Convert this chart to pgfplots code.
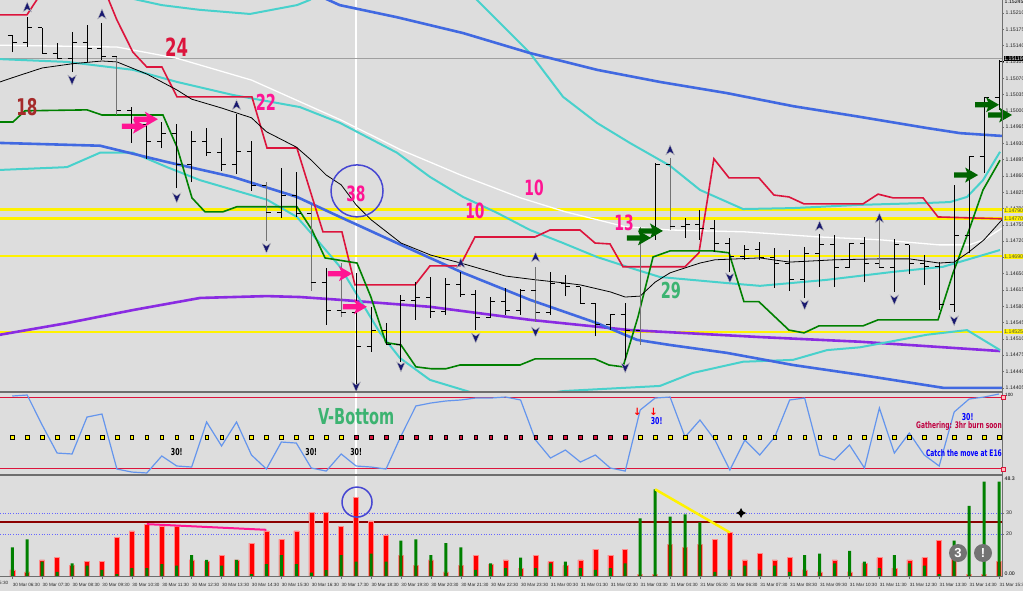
\documentclass[border=0pt]{standalone}
\usepackage{pgfplots}
\pgfplotsset{compat=1.18}
\usepackage{pgfplotstable}
\usepackage{fontspec}
\setmainfont{Liberation Sans}
\newfontfamily\impact{DejaVu Sans}[FakeStretch=0.66]
\newfontfamily\dejavu{DejaVu Sans}
\definecolor{bgc}{RGB}{221,221,221}
\definecolor{crim}{RGB}{220,20,60}
\definecolor{dgreen}{RGB}{0,128,0}
\definecolor{rblue}{RGB}{65,105,225}
\definecolor{turq}{RGB}{72,209,204}
\definecolor{bviolet}{RGB}{138,43,226}
\definecolor{cflower}{RGB}{100,149,237}
\definecolor{dpink}{RGB}{255,20,147}
\definecolor{brownc}{RGB}{165,42,42}
\definecolor{msgreen}{RGB}{60,179,113}
\definecolor{navyc}{RGB}{25,25,112}
\definecolor{circc}{RGB}{70,70,210}
\definecolor{arrgreen}{RGB}{0,100,0}
\definecolor{maroonc}{RGB}{139,0,0}
\definecolor{framec}{RGB}{110,110,110}

\pgfdeclareplotmark{otick}{\pgfpathmoveto{\pgfpoint{-4.5pt}{0pt}}\pgfpathlineto{\pgfpoint{0pt}{0pt}}\pgfusepathqstroke}
\pgfdeclareplotmark{ctick}{\pgfpathmoveto{\pgfpoint{0pt}{0pt}}\pgfpathlineto{\pgfpoint{4.5pt}{0pt}}\pgfusepathqstroke}
\pgfdeclareplotmark{fup}{\pgfpathmoveto{\pgfpoint{0pt}{5pt}}\pgfpathlineto{\pgfpoint{4.3pt}{-5pt}}\pgfpathlineto{\pgfpoint{0pt}{-2pt}}\pgfpathlineto{\pgfpoint{-4.3pt}{-5pt}}\pgfpathclose\pgfusepathqfillstroke}
\pgfdeclareplotmark{fdown}{\pgfpathmoveto{\pgfpoint{0pt}{-5pt}}\pgfpathlineto{\pgfpoint{4.3pt}{5pt}}\pgfpathlineto{\pgfpoint{0pt}{2pt}}\pgfpathlineto{\pgfpoint{-4.3pt}{5pt}}\pgfpathclose\pgfusepathqfillstroke}
\newcommand\arrpath[2]{%
\pgfpathmoveto{\pgfpoint{#1-12pt}{#2+2.6pt}}%
\pgfpathlineto{\pgfpoint{#1+1pt}{#2+2.6pt}}%
\pgfpathlineto{\pgfpoint{#1-1pt}{#2+7.5pt}}%
\pgfpathlineto{\pgfpoint{#1+12pt}{#2}}%
\pgfpathlineto{\pgfpoint{#1-1pt}{#2-7.5pt}}%
\pgfpathlineto{\pgfpoint{#1+1pt}{#2-2.6pt}}%
\pgfpathlineto{\pgfpoint{#1-12pt}{#2-2.6pt}}%
\pgfpathclose}
\pgfdeclareplotmark{rarr}{\arrpath{0pt}{0pt}\pgfusepathqfill}
\pgfdeclareplotmark{drarr}{\arrpath{-12pt}{-7pt}\pgfusepathqfill\arrpath{0pt}{0pt}\pgfusepathqfill}

\pgfplotstableread{
i O H L C g
0 1.15161 1.15163 1.15126 1.15146 0
1 1.15146 1.15201 1.15137 1.15178 0
2 1.15178 1.15178 1.15124 1.15124 0
3 1.15124 1.15146 1.15111 1.15113 0
4 1.15113 1.15169 1.15083 1.15146 0
5 1.15146 1.15184 1.15105 1.15133 0
6 1.15133 1.15189 1.15109 1.15116 0
7 1.15116 1.15116 1.14991 1.15000 1
8 1.15000 1.15008 1.14931 1.14970 0
9 1.14970 1.14970 1.14897 1.14935 0
10 1.14935 1.14976 1.14920 1.14952 0
11 1.14952 1.14972 1.14834 1.14884 0
12 1.14884 1.14957 1.14847 1.14935 0
13 1.14935 1.14963 1.14903 1.14910 0
14 1.14910 1.14942 1.14871 1.14884 0
15 1.14884 1.14993 1.14864 1.14912 0
16 1.14912 1.14935 1.14828 1.14839 0
17 1.14839 1.14847 1.14720 1.14781 1
18 1.14781 1.14877 1.14770 1.14819 0
19 1.14819 1.14869 1.14772 1.14779 0
20 1.14779 1.14798 1.14613 1.14632 1
21 1.14632 1.14663 1.14540 1.14570 0
22 1.14570 1.14673 1.14557 1.14566 1
23 1.14566 1.14652 1.14405 1.14493 0
24 1.14493 1.14579 1.14482 1.14529 0
25 1.14529 1.14544 1.14497 1.14499 0
26 1.14499 1.14605 1.14461 1.14592 0
27 1.14592 1.14632 1.14551 1.14598 0
28 1.14598 1.14643 1.14555 1.14568 0
29 1.14568 1.14641 1.14562 1.14626 0
30 1.14626 1.14654 1.14600 1.14605 0
31 1.14605 1.14615 1.14529 1.14557 0
32 1.14557 1.14600 1.14555 1.14590 0
33 1.14590 1.14620 1.14562 1.14572 0
34 1.14572 1.14617 1.14562 1.14615 0
35 1.14615 1.14665 1.14547 1.14566 1
36 1.14566 1.14654 1.14562 1.14630 0
37 1.14630 1.14648 1.14602 1.14622 0
38 1.14622 1.14622 1.14587 1.14587 0
39 1.14587 1.14587 1.14516 1.14540 0
40 1.14540 1.14562 1.14529 1.14562 0
41 1.14562 1.14587 1.14465 1.14529 0
42 1.14529 1.14751 1.14497 1.14744 1
43 1.14744 1.14888 1.14723 1.14884 0
44 1.14884 1.14899 1.14744 1.14751 1
45 1.14751 1.14770 1.14727 1.14755 0
46 1.14755 1.14787 1.14723 1.14748 0
47 1.14748 1.14766 1.14697 1.14716 0
48 1.14716 1.14727 1.14654 1.14688 0
49 1.14688 1.14712 1.14680 1.14703 0
50 1.14703 1.14718 1.14680 1.14684 0
51 1.14684 1.14705 1.14620 1.14673 0
52 1.14673 1.14701 1.14613 1.14637 0
53 1.14637 1.14708 1.14598 1.14693 0
54 1.14693 1.14736 1.14622 1.14712 0
55 1.14712 1.14733 1.14622 1.14663 0
56 1.14663 1.14716 1.14663 1.14714 0
57 1.14714 1.14729 1.14632 1.14671 0
58 1.14671 1.14770 1.14663 1.14663 1
59 1.14663 1.14725 1.14611 1.14712 0
60 1.14712 1.14712 1.14650 1.14673 0
61 1.14673 1.14690 1.14626 1.14665 0
62 1.14665 1.14675 1.14572 1.14583 0
63 1.14583 1.14841 1.14568 1.14733 0
64 1.14733 1.14901 1.14695 1.14901 0
65 1.14901 1.15028 1.14867 1.15028 0
66 1.15028 1.15109 1.15002 1.15105 0
}\bars

\pgfplotstableread{
i p
-0.82 1.15062
0 1.15071
2 1.15092
4 1.15101
6 1.15107
7 1.15105
9 1.15079
11 1.15045
12 1.15025
14 1.15006
16 1.14985
17 1.14955
19 1.14922
20 1.14894
21 1.14862
22 1.14841
23 1.14798
24 1.14766
26 1.14716
28 1.14690
30 1.14673
33 1.14645
35 1.14637
37 1.14630
38 1.14626
40 1.14611
41 1.14600
42 1.14602
43 1.14632
44 1.14652
46 1.14673
47 1.14680
50 1.14684
52 1.14675
55 1.14680
58 1.14682
60 1.14682
62 1.14673
63 1.14675
64 1.14697
65 1.14723
66.2 1.14766
}\blackma

\pgfplotstableread{
i p
-0.82 1.15141
7 1.15137
11 1.15113
16 1.15066
22 1.14980
26 1.14916
30 1.14862
34 1.14813
37 1.14783
41 1.14751
44 1.14744
49 1.14740
54 1.14729
58 1.14723
62 1.14712
64 1.14712
65 1.14723
66.2 1.14748
}\whitema

\pgfplotstableread{
i p
20.4 1.15249
21.9 1.15227
25.73 1.15201
30.15 1.15167
34.63 1.15124
39.11 1.15088
43.32 1.15062
47.8 1.15038
52.22 1.15010
56.7 1.14987
61.18 1.14963
63.4 1.14952
66.2 1.14946
}\blueup

\pgfplotstableread{
i p
-0.82 1.14931
5.87 1.14925
10.35 1.14890
14.76 1.14858
19.04 1.14815
21.92 1.14772
25.73 1.14716
30.15 1.14652
34.63 1.14594
39.11 1.14544
41.79 1.14508
43.99 1.14497
47.8 1.14480
52.22 1.14454
56.7 1.14433
62.26 1.14405
66.2 1.14405
}\bluelow

\pgfplotstableread{
i p
7.87 1.15242
10.0 1.15227
12.5 1.15217
15.9 1.15208
19.04 1.15227
19.9 1.15238
20.6 1.15255
25 1.15324
30.6 1.15255
31.09 1.15238
34.63 1.15124
36.84 1.15030
39.11 1.14974
41.31 1.14931
43.99 1.14882
46.0 1.14830
48.88 1.14789
52.22 1.14791
56.7 1.14798
61.18 1.14802
62.73 1.14804
63.86 1.14815
64.93 1.14851
66.07 1.14912
}\cyana

\pgfplotstableread{
i p
-0.82 1.15111
3.66 1.15105
8.07 1.15088
11.02 1.15062
14.76 1.15034
19.24 1.15008
21.92 1.14974
25.73 1.14910
27.94 1.14858
30.15 1.14815
32.42 1.14781
34.63 1.14744
36.84 1.14716
39.11 1.14686
41.31 1.14663
43.32 1.14643
47.8 1.14630
50.01 1.14624
54.5 1.14637
58.91 1.14654
62.26 1.14665
63.86 1.14680
66.07 1.14701
}\cyanb

\pgfplotstableread{
i p
-0.82 1.14873
3.66 1.14879
5.87 1.14910
8.07 1.14910
10.35 1.14879
12.56 1.14851
17.04 1.14809
19.04 1.14772
20.38 1.14723
21.92 1.14665
23.26 1.14594
24.6 1.14523
25.93 1.14469
27.94 1.14422
30.62 1.14396
33.0 1.14379
36.84 1.14398
43.32 1.14409
45.53 1.14437
48.88 1.14461
52.22 1.14465
54.5 1.14486
56.7 1.14492
61.18 1.14519
63.86 1.14529
66.07 1.14486
}\cyanc

\pgfplotstableread{
i p
-0.82 1.14519
3.66 1.14544
8.07 1.14572
12.56 1.14598
17.04 1.14602
19.24 1.14600
21.92 1.14594
27.94 1.14579
34.63 1.14551
41.31 1.14529
50.01 1.14514
56.7 1.14504
66.07 1.14484
}\purp

\pgfplotstableread{
i p
-0.82 1.15206
0.98 1.15206
1.72 1.15242
2.3 1.15302
6.2 1.15302
6.4 1.15242
7.0 1.15195
8.07 1.15126
9.0 1.15094
10.01 1.15094
11.02 1.15030
16.03 1.15030
17.04 1.14920
19.04 1.14920
20.78 1.14740
22.05 1.14740
22.92 1.14626
26.94 1.14626
27.94 1.14667
29.95 1.14667
30.95 1.14729
34.96 1.14729
35.97 1.14744
37.97 1.14744
38.98 1.14716
39.98 1.14714
40.85 1.14665
44.99 1.14665
45.93 1.14695
46.93 1.14897
47.94 1.14856
49.94 1.14856
50.95 1.14819
51.95 1.14815
52.96 1.14800
56.9 1.14800
57.91 1.14821
58.91 1.14813
60.92 1.14813
61.92 1.14772
66.2 1.14768
}\redl

\pgfplotstableread{
i p
-0.82 1.14976
0.05 1.14976
0.85 1.15000
5.0 1.15002
6.0 1.14991
10.08 1.14991
11.02 1.14922
12.02 1.14813
12.89 1.14783
14.09 1.14783
15.03 1.14794
19.04 1.14794
20.05 1.14744
20.92 1.14684
23.06 1.14673
23.99 1.14600
24.99 1.14502
26.0 1.14497
27.0 1.14450
28.01 1.14446
29.01 1.14446
29.95 1.14454
33.96 1.14454
34.96 1.14467
38.98 1.14467
39.91 1.14454
40.85 1.14450
41.85 1.14557
42.86 1.14686
43.99 1.14699
46.87 1.14699
47.94 1.14695
48.94 1.14590
49.94 1.14590
51.95 1.14529
52.96 1.14523
53.96 1.14538
56.9 1.14538
57.91 1.14551
61.92 1.14551
62.93 1.14652
63.93 1.14738
64.93 1.14830
66.07 1.14894
}\greenl

\pgfplotstableread{
i v
0 101.8
1 103.2
2 61.5
3 22.6
4 21.3
5 72.6
6 76.8
7 0.4
8 -3.8
9 -5.1
10 18.5
11 4.6
12 3.2
13 65.7
14 32.4
15 65.7
16 19.9
17 0.4
18 37.9
19 36.5
20 1.8
21 -2.4
22 21.3
23 4.6
24 3.2
25 0.4
26 46.3
27 88.0
28 92.1
29 94.9
30 96.3
31 99.0
32 99.0
33 100.4
34 96.3
35 40.7
36 15.7
37 26.8
38 10.1
39 19.9
40 1.8
41 -2.4
42 82.4
43 99.0
44 100.4
45 44.9
46 68.5
47 40.7
48 -1.0
49 40.7
50 19.9
51 44.9
52 96.3
53 99.0
54 19.9
55 12.9
56 33.8
57 1.8
58 85.1
59 22.6
60 50.4
61 19.9
62 4.6
63 79.6
64 97.6
65 100.4
66 104.6
}\osc

\pgfplotstableread{
i r g
0 2.9 13.6
1 2.0 17.5
2 7.7 6.8
3 8.7 2.0
4 5.1 6.0
5 6.8 4.9
6 6.8 2.9
7 18.3 0.9
8 21.5 3.7
9 24.7 3.7
10 23.6 5.6
11 23.6 4.9
12 7.7 9.9
13 6.8 7.7
14 9.9 4.9
15 7.7 7.7
16 15.6 0.9
17 21.5 5.6
18 17.5 9.9
19 21.5 5.6
20 30.2 1.6
21 30.2 2.8
22 23.6 9.9
23 37.4 6.8
24 26.3 10.7
25 19.6 6.8
26 9.9 16.8
27 4.9 17.5
28 7.7 9.9
29 2.0 15.6
30 4.9 13.6
31 9.9 2.9
32 5.6 6.0
33 7.7 3.7
34 3.7 8.8
35 9.9 3.7
36 6.8 6.0
37 4.9 6.8
38 7.7 3.7
39 12.8 2.9
40 9.9 3.7
41 12.8 6.0
42 0.9 27.4
43 0.9 41.3
44 14.9 28.3
45 13.6 29.4
46 14.9 25.5
47 17.5 2.0
48 20.7 2.9
49 7.7 4.9
50 10.9 2.9
51 7.7 4.9
52 8.8 2.0
53 2.9 9.9
54 2.0 10.7
55 7.7 6.0
56 2.0 12.0
57 6.0 6.8
58 8.8 3.7
59 3.7 9.9
60 7.7 6.0
61 8.8 4.9
62 16.8 0.9
63 10.7 16.8
64 0.9 33.4
65 0.9 44.9
66 6.8 44.9
}\hist

\pgfplotsset{pan/.style={scale only axis, width=1002pt, xmin=-0.82, xmax=66.2,
  enlargelimits=false, axis line style={draw=none}, anchor=north west, clip=true}}

\begin{document}
\begin{tikzpicture}[x=1pt,y=1pt]
\fill[bgc] (0pt,0pt) rectangle (1023pt,-591pt);
\useasboundingbox (0pt,0pt) rectangle (1023pt,-591pt);
\draw[white, line width=1.6pt] (356pt,0pt) -- (356pt,-576pt);

% ---------------- main price panel
\begin{axis}[pan, at={(0pt,0pt)}, height=392pt, ymin=1.14396, ymax=1.15238,
  xtick=\empty,
  ytick={1.14405,1.14440,1.14475,1.14510,1.14545,1.14580,1.14615,1.14650,1.14685,1.14720,1.14755,1.14790,1.14825,1.14860,1.14895,1.14930,1.14965,1.15000,1.15035,1.15070,1.15105,1.15140,1.15175,1.15210},
  yticklabels={1.14405,1.14440,1.14475,1.14510,1.14545,1.14580,1.14615,1.14650,1.14685,1.14720,1.14755,1.14790,1.14825,1.14860,1.14895,1.14930,1.14965,1.15000,1.15035,1.15070,1.15105,1.15140,1.15175,1.15210},
  ytick pos=right, yticklabel pos=right, tick align=outside, major tick length=2pt,
  tick style={framec, line width=0.5pt},
  yticklabel style={font=\fontsize{5.2}{6}\selectfont, anchor=west, inner sep=0pt, xshift=1.5pt, text=black!85}]
\addplot[gray!75, line width=0.5pt] coordinates {(-0.82,1.15113) (66.2,1.15113)};
\addplot[yellow, line width=3pt] coordinates {(-0.82,1.14788) (66.2,1.14788)};
\addplot[yellow, line width=3pt] coordinates {(-0.82,1.14769) (66.2,1.14769)};
\addplot[yellow, line width=2pt] coordinates {(-0.82,1.14688) (66.2,1.14688)};
\addplot[yellow, line width=2pt] coordinates {(-0.82,1.14525) (66.2,1.14525)};
\addplot[bviolet, line width=2.6pt] table[x=i,y=p]{\purp};
\addplot[turq, line width=2pt] table[x=i,y=p]{\cyana};
\addplot[turq, line width=2pt] table[x=i,y=p]{\cyanb};
\addplot[turq, line width=2pt] table[x=i,y=p]{\cyanc};
\addplot[rblue, line width=2.6pt] table[x=i,y=p]{\blueup};
\addplot[rblue, line width=2.6pt] table[x=i,y=p]{\bluelow};
\addplot[white, line width=1.3pt] table[x=i,y=p]{\whitema};
\addplot[crim, line width=1.6pt] table[x=i,y=p]{\redl};
\addplot[dgreen, line width=1.6pt] table[x=i,y=p]{\greenl};
\addplot[black, line width=0.8pt] table[x=i,y=p]{\blackma};
% OHLC bars
\addplot[draw=none, mark=none, restrict expr to domain={\thisrow{g}}{0:0},
  error bars/.cd, y dir=plus, y explicit, error mark=none,
  error bar style={draw=black, line width=1pt}]
  table[x=i, y=L, y error expr={\thisrow{H}-\thisrow{L}}]{\bars};
\addplot[draw=none, mark=none, restrict expr to domain={\thisrow{g}}{1:1},
  error bars/.cd, y dir=plus, y explicit, error mark=none,
  error bar style={draw=black!55, line width=1pt}]
  table[x=i, y=L, y error expr={\thisrow{H}-\thisrow{L}}]{\bars};
\addplot[only marks, mark=otick, mark options={draw=black, line width=1pt}] table[x=i,y=O]{\bars};
\addplot[only marks, mark=ctick, mark options={draw=black, line width=1pt}] table[x=i,y=C]{\bars};
% fractal arrows
\addplot[only marks, mark=fup, mark options={fill=navyc, draw=gray!50, line width=0.4pt}] coordinates {
 (1,1.15223) (6,1.15208) (15,1.15013) (30,1.14673) (35,1.14686) (44,1.14916) (54,1.14753) (58,1.14770)};
\addplot[only marks, mark=fdown, mark options={fill=navyc, draw=gray!50, line width=0.4pt}] coordinates {
 (4,1.15066) (11,1.14813) (17,1.14705) (23,1.14407) (26,1.14450) (31,1.14512) (35,1.14525) (41,1.14448) (48,1.14641) (53,1.14583) (59,1.14594) (63,1.14549)};
% signal arrows
\addplot[only marks, mark=drarr, mark options={fill=dpink, draw=none}] coordinates {(8.94,1.14982)};
\addplot[only marks, mark=rarr, mark options={fill=dpink, draw=none}] coordinates {(21.92,1.14650) (22.92,1.14579)};
\addplot[only marks, mark=drarr, mark options={fill=arrgreen, draw=none}] coordinates {(42.72,1.14742)};
\addplot[only marks, mark=rarr, mark options={fill=arrgreen, draw=none}] coordinates {(63.8,1.14862) (65.2,1.15013) (66.07,1.14991)};
% labels
\node[font=\impact\bfseries\fontsize{25}{25}\selectfont, text=crim] at (axis cs:11.0,1.15137) {24};
\node[font=\impact\bfseries\fontsize{22}{22}\selectfont, text=dpink] at (axis cs:16.97,1.15019) {22};
\node[font=\impact\bfseries\fontsize{23}{23}\selectfont, text=brownc] at (axis cs:0.98,1.15008) {18};
\node[font=\impact\bfseries\fontsize{21}{21}\selectfont, text=dpink] at (axis cs:22.99,1.14821) {38};
\node[font=\impact\bfseries\fontsize{21}{21}\selectfont, text=dpink] at (axis cs:34.9,1.14834) {10};
\node[font=\impact\bfseries\fontsize{21}{21}\selectfont, text=dpink] at (axis cs:30.95,1.14785) {10};
\node[font=\impact\bfseries\fontsize{21}{21}\selectfont, text=dpink] at (axis cs:40.92,1.14759) {13};
\node[font=\impact\bfseries\fontsize{22}{22}\selectfont, text=msgreen] at (axis cs:44.06,1.14615) {29};
\draw[circc, line width=1.5pt] (axis cs:23.06,1.14828) circle[radius=26pt];
\end{axis}

% ---------------- oscillator panel
\begin{axis}[pan, at={(0pt,-393pt)}, height=81pt, ymin=-6.5, ymax=106, xtick=\empty, ytick=\empty]
\addplot[crim, line width=0.7pt] coordinates {(-0.82,100) (66.2,100)};
\addplot[crim, line width=0.7pt] coordinates {(-0.82,1) (66.2,1)};
\addplot[only marks, mark=square*, mark size=1.8pt, mark options={fill=yellow, draw=none}] coordinates {
 (0,45) (1,45) (2,45) (3,45) (4,45) (5,45) (6,45) (7,45) (8,45) (9,45) (10,45) (11,45) (12,45) (13,45) (14,45) (15,45) (16,45) (17,45) (18,45) (19,45) (20,45) (21,45) (22,45)
 (42,45) (43,45) (44,45) (45,45) (46,45) (47,45) (48,45) (49,45) (50,45) (51,45) (52,45) (53,45) (54,45) (55,45) (56,45) (57,45) (58,45) (59,45) (60,45) (61,45) (62,45) (63,45) (64,45) (65,45) (66,45)};
\addplot[only marks, mark=square*, mark size=1.8pt, mark options={fill=crim, draw=none}] coordinates {
 (23,45) (24,45) (25,45) (26,45) (27,45) (28,45) (29,45) (30,45) (31,45) (32,45) (33,45) (34,45) (35,45) (36,45) (37,45) (38,45) (39,45) (40,45) (41,45)};
\addplot[cflower, line width=1.2pt] table[x=i,y=v]{\osc};
\node[font=\impact\bfseries\fontsize{22}{22}\selectfont, text=msgreen] at (axis cs:23.0,72.6) {V-Bottom};
\node[font=\impact\bfseries\fontsize{9.5}{10}\selectfont] at (axis cs:11.0,24) {30!};
\node[font=\impact\bfseries\fontsize{9.5}{10}\selectfont] at (axis cs:20.0,24) {30!};
\node[font=\impact\bfseries\fontsize{9.5}{10}\selectfont] at (axis cs:23.0,24) {30!};
\node[font=\dejavu\bfseries\fontsize{10}{10}\selectfont, text=red] at (axis cs:41.8,80) {↓};
\node[font=\dejavu\bfseries\fontsize{10}{10}\selectfont, text=red] at (axis cs:42.9,80) {↓};
\node[font=\impact\bfseries\fontsize{9.5}{10}\selectfont, text=blue] at (axis cs:43.1,67) {30!};
\node[font=\impact\bfseries\fontsize{9.5}{10}\selectfont, text=blue] at (axis cs:63.9,73) {30!};
\node[font=\impact\bfseries\fontsize{9}{9}\selectfont, text=purple, anchor=east, inner sep=0pt] at (axis cs:66.2,59.5) {Gathering: 3hr burn soon};
\node[font=\impact\bfseries\fontsize{9}{9}\selectfont, text=blue, anchor=east, inner sep=0pt] at (axis cs:66.2,22.6) {Catch the move at E16};
\end{axis}

% ---------------- histogram panel
\begin{axis}[pan, at={(0pt,-475pt)}, height=101pt, ymin=0, ymax=48.1,
  xtick={0,2,...,66},
  xticklabels={30 Mar 06:30,30 Mar 07:30,30 Mar 08:30,30 Mar 09:30,30 Mar 10:30,30 Mar 11:30,30 Mar 12:30,30 Mar 13:30,30 Mar 14:30,30 Mar 15:30,30 Mar 16:30,30 Mar 17:30,30 Mar 18:30,30 Mar 19:30,30 Mar 20:30,30 Mar 21:30,30 Mar 22:30,30 Mar 23:30,31 Mar 00:30,31 Mar 01:30,31 Mar 02:30,31 Mar 03:30,31 Mar 04:30,31 Mar 05:30,31 Mar 06:30,31 Mar 07:30,31 Mar 08:30,31 Mar 09:30,31 Mar 10:30,31 Mar 11:30,31 Mar 12:30,31 Mar 13:30,31 Mar 14:30,31 Mar 15:30},
  xtick pos=bottom, ytick={20,30}, yticklabels={20,30}, ytick pos=right, yticklabel pos=right,
  tick align=outside, major tick length=2.5pt, tick style={framec, line width=0.5pt},
  xticklabel style={font=\fontsize{4.6}{5}\selectfont, anchor=north west, inner sep=0pt, xshift=0.3pt, yshift=-4.5pt, text=black!85},
  yticklabel style={font=\fontsize{5.2}{6}\selectfont, anchor=west, inner sep=0pt, xshift=1.5pt, text=black!85}]
\addplot[blue!60, dotted, line width=0.6pt] coordinates {(-0.82,30) (66.2,30)};
\addplot[blue!60, dotted, line width=0.6pt] coordinates {(-0.82,20) (66.2,20)};
\addplot[maroonc, line width=2.5pt] coordinates {(-0.82,25.7) (66.2,25.7)};
\addplot[ybar, bar width=5pt, bar shift=0pt, fill=red, draw=red!45!white, line width=0.5pt] table[x=i,y=r]{\hist};
\addplot[ybar, bar width=3pt, bar shift=0pt, fill=dgreen, draw=none] table[x=i,y=g]{\hist};
\addplot[dpink, line width=2pt] coordinates {(9,24.7) (17,22.0)};
\addplot[yellow, line width=2.5pt] coordinates {(43,41.3) (48,20.7)};
\draw[circc, line width=1.5pt] (axis cs:23.06,35.2) circle[radius=15pt];
\end{axis}

% frame lines and right-hand labels
\draw[framec, line width=2pt] (0pt,-392pt) -- (1002.5pt,-392pt);
\draw[framec, line width=2pt] (0pt,-474.5pt) -- (1002.5pt,-474.5pt);
\draw[framec, line width=1pt] (0pt,-576pt) -- (1002.5pt,-576pt);
\draw[framec, line width=1pt] (1002.5pt,0pt) -- (1002.5pt,-576pt);
\node[font=\fontsize{5.2}{6}\selectfont, anchor=west, inner sep=0pt] at (1004.5pt,-1.5pt) {1.15245};
\node[font=\fontsize{5.2}{6}\selectfont, anchor=west, fill=black, text=white, inner sep=0.6pt] at (1003.5pt,-58.3pt) {1.15119};
\node[font=\fontsize{5.2}{6}\selectfont, anchor=west, fill=yellow, text=black!70, inner sep=0.6pt] at (1003.5pt,-210.5pt) {1.14790};
\node[font=\fontsize{5.2}{6}\selectfont, anchor=west, fill=yellow, text=black!70, inner sep=0.6pt] at (1003.5pt,-218.5pt) {1.14770};
\node[font=\fontsize{5.2}{6}\selectfont, anchor=west, fill=yellow, text=black!70, inner sep=0.6pt] at (1003.5pt,-256.5pt) {1.14690};
\node[font=\fontsize{5.2}{6}\selectfont, anchor=west, fill=yellow, text=black!70, inner sep=0.6pt] at (1003.5pt,-331.5pt) {1.14525};
\node[font=\fontsize{4.6}{5}\selectfont, anchor=west, inner sep=0pt] at (1005pt,-394.5pt) {100};
\node[draw=crim, fill=pink, minimum size=4pt, inner sep=0pt] at (1003pt,-397.3pt) {};
\node[draw=crim, fill=pink, minimum size=4pt, inner sep=0pt] at (1003pt,-469.3pt) {};
\node[font=\fontsize{5.2}{6}\selectfont, anchor=west, inner sep=0pt] at (1004.5pt,-479pt) {48.3};
\node[font=\fontsize{5.2}{6}\selectfont, anchor=west, inner sep=0pt] at (1004.5pt,-574pt) {0.00};
\node[font=\fontsize{4.6}{5}\selectfont, anchor=west, inner sep=0pt, text=black!85] at (-1pt,-583pt) {5:30};
\node[circle, fill=black!55, minimum size=18pt, inner sep=0pt, text=white, font=\bfseries\fontsize{13}{13}\selectfont] at (958pt,-553pt) {3};
\node[circle, fill=black!55, minimum size=18pt, inner sep=0pt, text=white, font=\bfseries\fontsize{13}{13}\selectfont] at (983pt,-553pt) {!};
\draw[black, line width=1.2pt, <->, >=stealth] (736pt,-513pt) -- (746pt,-513pt);
\draw[black, line width=1.2pt, <->, >=stealth] (741pt,-508pt) -- (741pt,-518pt);
\end{tikzpicture}
\end{document}
